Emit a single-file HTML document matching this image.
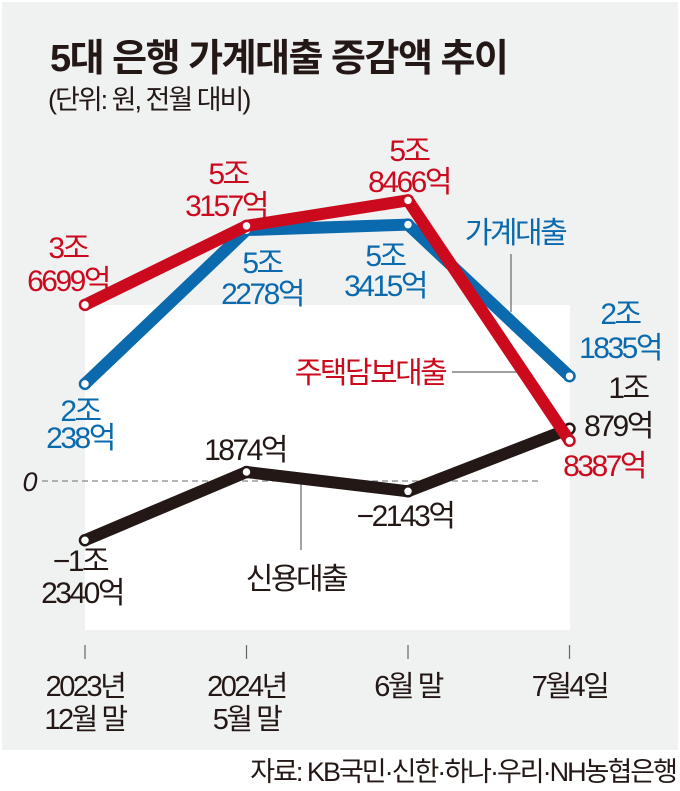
<!DOCTYPE html>
<html><head><meta charset="utf-8"><style>
body{margin:0;width:680px;height:786px;background:#fff;overflow:hidden;font-family:"Liberation Sans","Noto Sans CJK KR",sans-serif;}
svg text{font-family:"Liberation Sans","Noto Sans CJK KR",sans-serif;}
</style></head><body>
<svg id="chart" width="680" height="786" viewBox="0 0 680 786" xmlns="http://www.w3.org/2000/svg">
<rect x="2" y="2" width="676" height="748" fill="#f0f1f1"/>
<rect x="85" y="305" width="485" height="325" fill="#ffffff"/>
<text x="50" y="71" font-size="38" font-weight="bold" fill="#231815" letter-spacing="-1.5">5대 은행 가계대출 증감액 추이</text>
<text x="48" y="109" font-size="27" fill="#231815" letter-spacing="-2">(단위: 원, 전월 대비)</text>
<line x1="42" y1="481" x2="540" y2="481" stroke="#888" stroke-width="1.2" stroke-dasharray="6,4"/>
<text x="30" y="491" font-size="27" font-style="italic" fill="#231815" text-anchor="middle">0</text>
<g id="leaders" stroke="#666" stroke-width="1.2">
<line x1="511" y1="254" x2="511" y2="312"/>
<line x1="452" y1="372" x2="530" y2="372"/>
<line x1="301" y1="484" x2="301" y2="550"/>
</g>
<g id="ticks"></g>
<g id="series"></g>
<g id="labels" font-size="30" letter-spacing="-2.5" text-anchor="middle">
<text fill="#cc0a1e" x="68" y="258">3조</text>
<text fill="#cc0a1e" x="68" y="291">6699억</text>
<text fill="#cc0a1e" x="228" y="184">5조</text>
<text fill="#cc0a1e" x="226" y="216">3157억</text>
<text fill="#cc0a1e" x="409" y="161">5조</text>
<text fill="#cc0a1e" x="409" y="192">8466억</text>
<text fill="#0a6aad" x="262" y="273">5조</text>
<text fill="#0a6aad" x="262" y="304">2278억</text>
<text fill="#0a6aad" x="385" y="266">5조</text>
<text fill="#0a6aad" x="385" y="296">3415억</text>
<text fill="#0a6aad" x="515" y="243">가계대출</text>
<text fill="#0a6aad" x="620" y="324">2조</text>
<text fill="#0a6aad" x="620" y="358">1835억</text>
<text fill="#cc0a1e" x="370" y="383">주택담보대출</text>
<text fill="#231815" x="628" y="398">1조</text>
<text fill="#231815" x="618" y="436">879억</text>
<text fill="#cc0a1e" x="604" y="476">8387억</text>
<text fill="#0a6aad" x="80" y="421">2조</text>
<text fill="#0a6aad" x="80" y="448">238억</text>
<text fill="#231815" x="245" y="460">1874억</text>
<text fill="#231815" x="405" y="526">−2143억</text>
<text fill="#231815" x="80" y="571">−1조</text>
<text fill="#231815" x="82" y="603">2340억</text>
<text fill="#231815" x="296" y="589">신용대출</text>
</g>
<g id="xlabels" font-size="29" letter-spacing="-2.5" text-anchor="middle" fill="#231815"></g>
<text x="676" y="781" font-size="27" fill="#231815" text-anchor="end" letter-spacing="-2">자료: KB국민·신한·하나·우리·NH농협은행</text>
</svg>
<script>
const categories = ["2023년|12월 말", "2024년|5월 말", "6월 말", "7월4일"];
const householdValues = [20238, 52278, 53415, 21835];
const mortgageValues = [36699, 53157, 58466, 8387];
const creditValues = [-12340, 1874, -2143, 10879];

const NS = "http://www.w3.org/2000/svg";
const xScale = i => 85 + i * 161.5;
const yScale = v => 481 - v * 0.0048;
function mk(tag, attrs, parent){const e=document.createElementNS(NS,tag);for(const k in attrs)e.setAttribute(k,attrs[k]);parent.appendChild(e);return e;}
const series = document.getElementById("series");
const ticks = document.getElementById("ticks");
const xl = document.getElementById("xlabels");
categories.forEach((c,i)=>{
  const t = mk("line",{x1:xScale(i),x2:xScale(i),y1:645,y2:659,stroke:"#666","stroke-width":1.2},ticks);
  
  
  c.split("|").forEach((p,j)=>{
    const tx = mk("text",{x:xScale(i),y:696+j*33},xl);
    
    
    tx.textContent = p;
  });
});
function draw(vals,color,name){
  const pts = vals.map((v,i)=>xScale(i)+","+yScale(v)).join(" ");
  const pl = mk("polyline",{points:pts,fill:"none",stroke:color,"stroke-width":12,"stroke-linejoin":"round","stroke-linecap":"round"},series);
  
  
  vals.forEach((v,i)=>{
    const c = mk("circle",{cx:xScale(i),cy:yScale(v),r:5,fill:"#fff",stroke:color,"stroke-width":2.5},series);
    
    
  });
}
draw(creditValues,"#231815","credit");
draw(householdValues,"#0a6aad","household");
draw(mortgageValues,"#cc0a1e","mortgage");
</script>
</body></html>
